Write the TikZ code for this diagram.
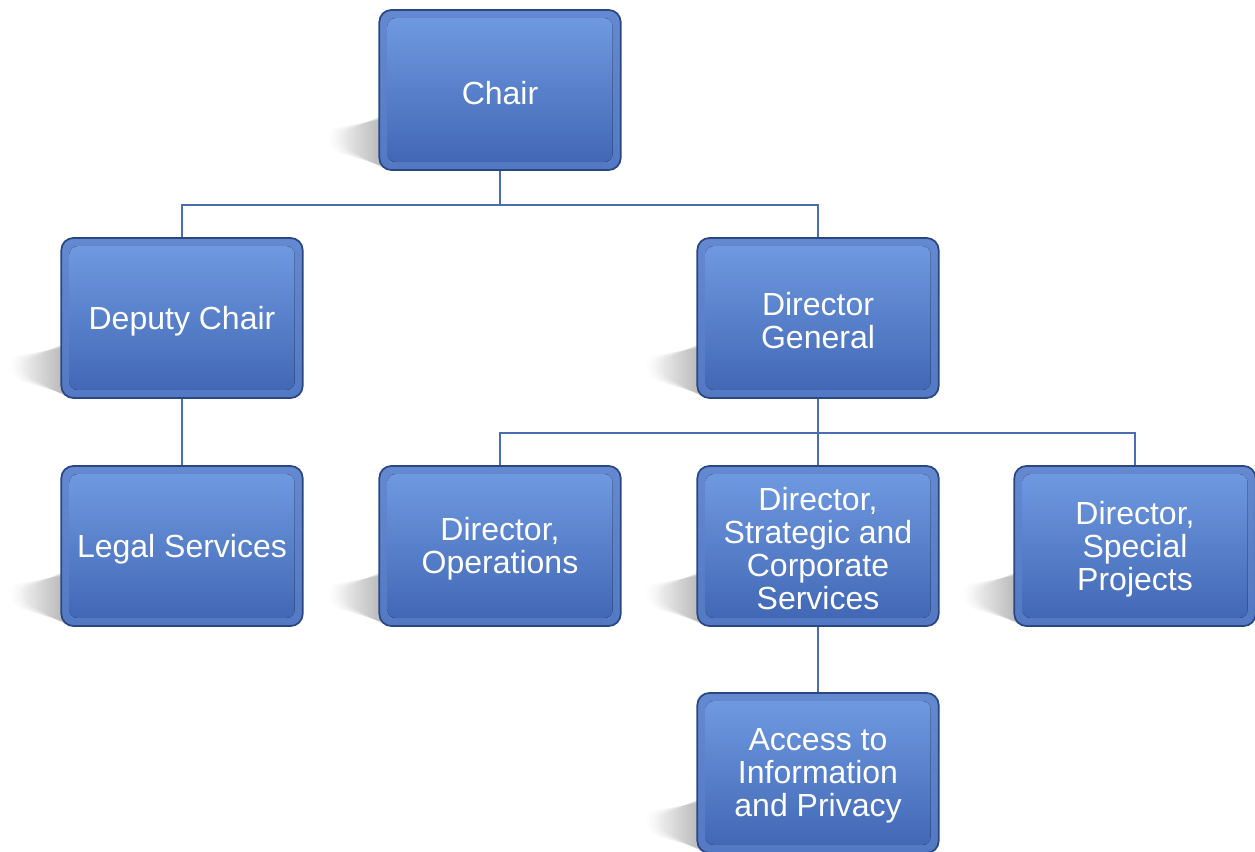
\documentclass[tikz,border=0pt]{standalone}
\usepackage{fontspec}
\setmainfont{Liberation Sans}
\usetikzlibrary{positioning,calc,fadings}
\definecolor{rimtop}{HTML}{6489D0}
\definecolor{rimbot}{HTML}{5479C4}
\definecolor{facetop}{HTML}{6E99E0}
\definecolor{facebot}{HTML}{4268B5}
\definecolor{boxedge}{HTML}{2B4782}
\definecolor{linkblue}{HTML}{4A6DB2}

\begin{document}
\begin{tikzpicture}[x=0.75pt,y=-0.75pt]
        \tikzstyle{unit} = [rectangle,rounded corners=9pt,draw=boxedge,line width=1.3pt,top color=rimtop,bottom color=rimbot,minimum width=181pt,minimum height=120pt,inner sep=0pt]
        \tikzstyle{face} = [rounded corners=6pt,top color=facetop,bottom color=facebot]
        \tikzstyle{caption} = [align=center,text=white,font=\fontsize{24}{24.75}\selectfont]
        \tikzstyle{link} = [draw=linkblue,line width=1.6pt]
        \useasboundingbox (0,0) rectangle (1255,852);
        \foreach \n/\x/\y/\t in {chair/500/90/{Chair},deputy/182/318/{Deputy Chair},dg/818/318/{Director\\General},legal/182/546/{Legal Services},ops/500/546/{Director,\\Operations},strat/818/546/{Director,\\Strategic and\\Corporate\\Services},special/1135/546/{Director,\\Special\\Projects},access/818/773/{Access to\\Information\\and Privacy}}{
          \foreach \s in {0,4,8,12}
            \fill[black,opacity=0.09,path fading=west,rounded corners=8pt] (\x-176+\s,\y+40+\s/2) -- (\x-110,\y+28-\s/2) -- (\x-110,\y+78+\s/3) -- (\x-170+\s,\y+60-\s/3) -- cycle;
          \node[unit] (\n) at (\x,\y) {};
          \fill[face] ($(\n.north west)+(9,9)$) rectangle ($(\n.south east)+(-9,-9)$);
          \node[caption] at (\x,\y+3) {\t};
        }
        \path[link] (chair.south) -- ++(0,34) -| (deputy.north);
        \path[link] (chair.south) -- ++(0,34) -| (dg.north);
        \path[link] (deputy.south) -- (legal.north);
        \path[link] (dg.south) -- ++(0,34) -| (ops.north);
        \path[link] (dg.south) -- ++(0,34) -| (special.north);
        \path[link] (dg.south) -- (strat.north);
        \path[link] (strat.south) -- (access.north);
      \end{tikzpicture}
\end{document}
